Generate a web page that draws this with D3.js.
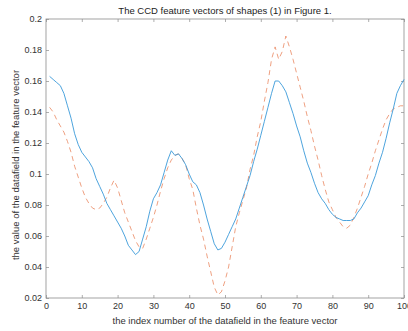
<!DOCTYPE html>
<html><head><meta charset="utf-8">
<script src="https://cdn.jsdelivr.net/npm/d3@7"></script>
<style>body{margin:0;background:#fff;}svg{display:block;}</style>
</head><body>
<script>
const titleText = "The CCD feature vectors of shapes (1) in Figure 1.";
const xLabel = "the index number of the datafield in the feature vector";
const yLabel = "the value of the datafield in the feature vector";
const xTicks = [0,10,20,30,40,50,60,70,80,90,100];
const yTicks = [0.02,0.04,0.06,0.08,0.1,0.12,0.14,0.16,0.18,0.2];
const indices = d3.range(1,101);
const seriesBlue = [0.163,0.161,0.159,0.157,0.152,0.144,0.136,0.126,0.119,0.114,
0.111,0.108,0.104,0.097,0.092,0.087,0.081,0.077,0.073,0.069,
0.065,0.060,0.054,0.051,0.048,0.050,0.058,0.066,0.076,0.084,
0.088,0.093,0.101,0.109,0.115,0.112,0.113,0.110,0.106,0.100,
0.095,0.093,0.088,0.080,0.071,0.063,0.055,0.051,0.052,0.056,
0.061,0.066,0.071,0.078,0.085,0.092,0.099,0.108,0.116,0.125,
0.134,0.143,0.152,0.160,0.160,0.157,0.153,0.146,0.139,0.131,
0.124,0.115,0.107,0.101,0.094,0.088,0.084,0.081,0.077,0.074,
0.072,0.071,0.070,0.070,0.070,0.071,0.075,0.078,0.082,0.086,
0.093,0.099,0.107,0.114,0.123,0.133,0.142,0.152,0.157,0.161];
const seriesOrange = [0.143,0.140,0.135,0.131,0.127,0.121,0.114,0.105,0.098,0.091,
0.085,0.081,0.078,0.077,0.078,0.081,0.085,0.091,0.096,0.091,
0.083,0.075,0.069,0.063,0.057,0.053,0.052,0.058,0.065,0.072,
0.080,0.089,0.097,0.104,0.109,0.112,0.113,0.110,0.106,0.097,
0.090,0.078,0.067,0.058,0.047,0.037,0.027,0.022,0.024,0.031,
0.040,0.053,0.066,0.075,0.083,0.091,0.103,0.112,0.124,0.134,
0.147,0.159,0.174,0.182,0.174,0.179,0.189,0.182,0.174,0.165,
0.156,0.147,0.137,0.128,0.118,0.109,0.099,0.090,0.082,0.077,
0.072,0.069,0.066,0.065,0.067,0.072,0.078,0.085,0.092,0.100,
0.107,0.115,0.122,0.129,0.135,0.139,0.142,0.143,0.144,0.144];

const W = 408, H = 331;
const L = 46, R = 404, T = 19, B = 298;
const font = "'Liberation Sans', Arial, sans-serif";
const axisColor = "#8c8c8c", textColor = "#333";

const svg = d3.select("body").append("svg").attr("width", W).attr("height", H);
const x = d3.scaleLinear().domain([0,100]).range([L,R]);
const y = d3.scaleLinear().domain([0.02,0.2]).range([B,T]);

const tl = 3;
function styleAxis(g){
  g.select(".domain").remove();
  g.selectAll(".tick line").attr("stroke", axisColor).attr("stroke-width", 0.7);
  g.selectAll(".tick text").attr("fill", textColor).style("font-family", font).style("font-size", "9px");
}
svg.append("g").attr("transform", `translate(0,${B})`)
  .call(d3.axisBottom(x).tickValues(xTicks).tickSize(-tl).tickPadding(5).tickFormat(d3.format("d")))
  .call(styleAxis).selectAll(".tick text").attr("dy","0.71em");
svg.append("g").attr("transform", `translate(0,${T})`)
  .call(d3.axisTop(x).tickValues(xTicks).tickSize(-tl).tickFormat(""))
  .call(styleAxis);
svg.append("g").attr("transform", `translate(${L},0)`)
  .call(d3.axisLeft(y).tickValues(yTicks).tickSize(-tl).tickPadding(4).tickFormat(d => String(+d.toFixed(2))))
  .call(styleAxis);
svg.append("g").attr("transform", `translate(${R},0)`)
  .call(d3.axisRight(y).tickValues(yTicks).tickSize(-tl).tickFormat(""))
  .call(styleAxis);

svg.append("rect").attr("x", L).attr("y", T).attr("width", R-L).attr("height", B-T)
  .attr("fill","none").attr("stroke", axisColor).attr("stroke-width", 0.8);

const line = d3.line().x((d,i) => x(indices[i])).y(d => y(d));
svg.append("path").datum(seriesOrange).attr("d", line)
  .attr("fill","none").attr("stroke","#e8825a").attr("stroke-width",0.9)
  .attr("stroke-dasharray","5,4").attr("opacity",0.85);
svg.append("path").datum(seriesBlue).attr("d", line)
  .attr("fill","none").attr("stroke","#3a9ad9").attr("stroke-width",0.9);

svg.append("text").attr("x", (L+R)/2).attr("y", 14).attr("text-anchor","middle")
  .attr("fill","#222").style("font-family", font).style("font-size","9.5px").text(titleText);
svg.append("text").attr("x", (L+R)/2).attr("y", 324).attr("text-anchor","middle")
  .attr("fill", textColor).style("font-family", font).style("font-size","9.5px").text(xLabel);
svg.append("text").attr("transform", `translate(19,165) rotate(-90)`).attr("text-anchor","middle")
  .attr("fill", textColor).style("font-family", font).style("font-size","9.5px").text(yLabel);
</script>
</body></html>
